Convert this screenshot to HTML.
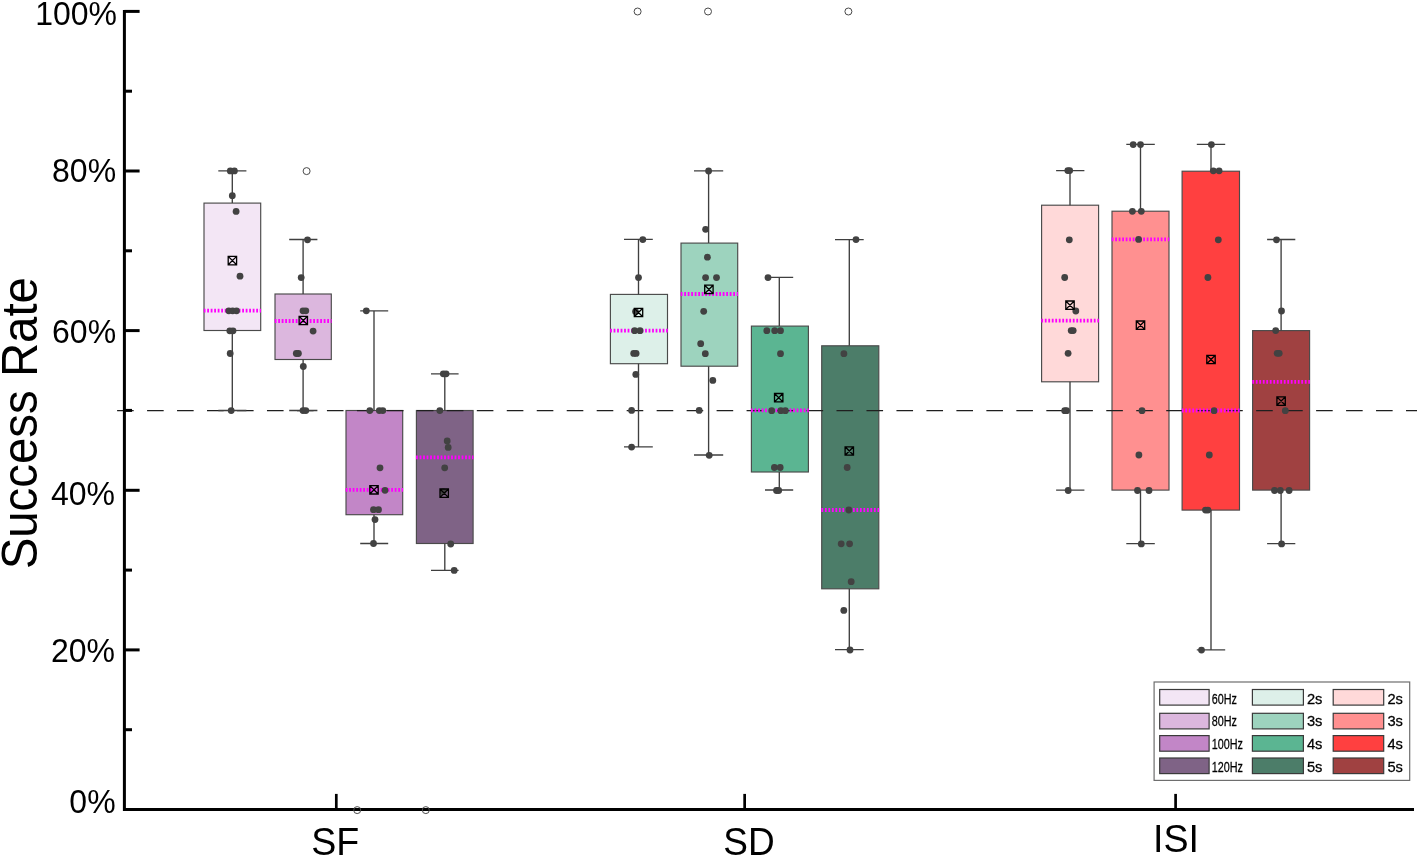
<!DOCTYPE html>
<html><head><meta charset="utf-8"><title>Success Rate</title>
<style>
html,body{margin:0;padding:0;background:#fff;}
body{width:1417px;height:857px;overflow:hidden;font-family:"Liberation Sans",sans-serif;}
svg{display:block;will-change:transform;}
</style></head><body>
<svg width="1417" height="857" viewBox="0 0 1417 857">
<rect x="0" y="0" width="1417" height="857" fill="#ffffff"/>
<g stroke="#4a4a4a" stroke-width="1.15">
<rect x="204.0" y="203.1" width="56.7" height="127.4" fill="#f3e6f5"/>
<rect x="275.0" y="294.0" width="56.3" height="65.5" fill="#dcb7de"/>
<rect x="346.0" y="410.5" width="56.7" height="104.2" fill="#c286c7"/>
<rect x="416.4" y="410.5" width="56.7" height="133.0" fill="#7f6386"/>
<rect x="610.4" y="294.4" width="57.1" height="69.3" fill="#ddf0e9"/>
<rect x="681.0" y="243.1" width="56.7" height="123.1" fill="#9dd3be"/>
<rect x="751.4" y="326.1" width="57.0" height="145.9" fill="#5bb592"/>
<rect x="821.7" y="345.8" width="57.1" height="243.0" fill="#4c7d69"/>
<rect x="1041.6" y="205.2" width="57.0" height="176.6" fill="#ffd9d9"/>
<rect x="1112.0" y="211.2" width="57.0" height="278.9" fill="#ff9090"/>
<rect x="1182.1" y="171.2" width="57.4" height="338.9" fill="#ff4040"/>
<rect x="1252.6" y="330.6" width="57.0" height="159.5" fill="#a04141"/>
</g>
<line x1="117.1" y1="410.5" x2="1417" y2="410.5" stroke="#1f1f1f" stroke-width="1.25" stroke-dasharray="16.6 13.375"/>
<g stroke="#ff00ff" stroke-width="3.8" stroke-dasharray="1.8 1.7">
<line x1="203.7" y1="310.7" x2="261.0" y2="310.7"/>
<line x1="274.7" y1="321.0" x2="331.6" y2="321.0"/>
<line x1="345.7" y1="489.9" x2="403.0" y2="489.9"/>
<line x1="416.1" y1="457.4" x2="473.4" y2="457.4"/>
<line x1="610.1" y1="330.7" x2="667.8" y2="330.7"/>
<line x1="680.7" y1="294.0" x2="738.0" y2="294.0"/>
<line x1="751.1" y1="410.4" x2="808.7" y2="410.4"/>
<line x1="821.4" y1="510.0" x2="879.1" y2="510.0"/>
<line x1="1041.3" y1="320.6" x2="1098.9" y2="320.6"/>
<line x1="1111.7" y1="239.4" x2="1169.3" y2="239.4"/>
<line x1="1181.8" y1="410.5" x2="1239.8" y2="410.5"/>
<line x1="1252.3" y1="381.8" x2="1309.9" y2="381.8"/>
</g>
<g stroke="#3f3f3f" stroke-width="1.35" fill="none">
<path d="M232.3 170.9V203.1M232.3 330.5V410.5M218.3 170.9H246.4M218.3 410.5H246.4"/>
<path d="M303.1 239.5V294.0M303.1 359.5V410.5M289.2 239.5H317.4M289.2 410.5H317.4"/>
<path d="M374.0 310.8V410.5M374.0 514.7V543.5M360.2 310.8H388.2M360.2 543.5H388.2"/>
<path d="M444.8 373.8V410.5M444.8 543.5V570.4M431.0 373.8H458.6M431.0 570.4H458.6"/>
<path d="M638.5 239.3V294.4M638.5 363.7V446.8M624.0 239.3H652.8M624.0 446.8H652.8"/>
<path d="M708.6 170.8V243.1M708.6 366.2V455.0M694.0 170.8H723.2M694.0 455.0H723.2"/>
<path d="M779.3 277.3V326.1M779.3 472.0V490.0M765.0 277.3H793.2M765.0 490.0H793.2"/>
<path d="M849.3 239.6V345.8M849.3 588.8V649.6M835.0 239.6H863.7M835.0 649.6H863.7"/>
<path d="M1070.0 170.6V205.2M1070.0 381.8V490.1M1056.1 170.6H1084.4M1056.1 490.1H1084.4"/>
<path d="M1140.5 144.4V211.2M1140.5 490.1V543.6M1126.3 144.4H1154.8M1126.3 543.6H1154.8"/>
<path d="M1211.0 144.4V171.2M1211.0 510.1V649.8M1196.8 144.4H1225.2M1196.8 649.8H1225.2"/>
<path d="M1281.1 239.5V330.6M1281.1 490.1V543.6M1267.1 239.5H1295.3M1267.1 543.6H1295.3"/>
</g>
<g fill="#424242">
<circle cx="230.3" cy="170.9" r="3.4"/>
<circle cx="234.4" cy="170.9" r="3.4"/>
<circle cx="232.3" cy="195.7" r="3.4"/>
<circle cx="236.1" cy="211.4" r="3.4"/>
<circle cx="240.0" cy="276.2" r="3.4"/>
<circle cx="228.8" cy="310.8" r="3.4"/>
<circle cx="232.6" cy="310.8" r="3.4"/>
<circle cx="236.5" cy="310.8" r="3.4"/>
<circle cx="229.8" cy="330.8" r="3.4"/>
<circle cx="233.0" cy="330.8" r="3.4"/>
<circle cx="230.2" cy="353.5" r="3.4"/>
<circle cx="231.2" cy="410.6" r="3.4"/>
<circle cx="307.5" cy="239.8" r="3.4"/>
<circle cx="301.2" cy="277.6" r="3.4"/>
<circle cx="303.0" cy="310.8" r="3.4"/>
<circle cx="305.8" cy="310.8" r="3.4"/>
<circle cx="313.1" cy="331.1" r="3.4"/>
<circle cx="296.3" cy="353.5" r="3.4"/>
<circle cx="298.4" cy="353.5" r="3.4"/>
<circle cx="303.3" cy="366.5" r="3.4"/>
<circle cx="303.0" cy="410.6" r="3.4"/>
<circle cx="305.8" cy="410.6" r="3.4"/>
<circle cx="366.3" cy="310.8" r="3.4"/>
<circle cx="369.8" cy="410.6" r="3.4"/>
<circle cx="379.3" cy="410.6" r="3.4"/>
<circle cx="382.8" cy="410.6" r="3.4"/>
<circle cx="380.0" cy="467.8" r="3.4"/>
<circle cx="385.0" cy="490.3" r="3.4"/>
<circle cx="373.5" cy="509.7" r="3.4"/>
<circle cx="378.5" cy="509.7" r="3.4"/>
<circle cx="375.0" cy="519.6" r="3.4"/>
<circle cx="373.5" cy="543.5" r="3.4"/>
<circle cx="443.3" cy="373.8" r="3.4"/>
<circle cx="446.1" cy="373.8" r="3.4"/>
<circle cx="439.8" cy="410.6" r="3.4"/>
<circle cx="447.2" cy="441.0" r="3.4"/>
<circle cx="448.2" cy="447.4" r="3.4"/>
<circle cx="444.7" cy="467.8" r="3.4"/>
<circle cx="443.2" cy="491.8" r="3.4"/>
<circle cx="450.7" cy="544.0" r="3.4"/>
<circle cx="454.2" cy="570.4" r="3.4"/>
<circle cx="642.8" cy="239.6" r="3.4"/>
<circle cx="638.5" cy="277.6" r="3.4"/>
<circle cx="635.5" cy="311.6" r="3.4"/>
<circle cx="634.6" cy="330.7" r="3.4"/>
<circle cx="640.0" cy="330.7" r="3.4"/>
<circle cx="633.7" cy="353.4" r="3.4"/>
<circle cx="636.1" cy="353.4" r="3.4"/>
<circle cx="635.8" cy="374.4" r="3.4"/>
<circle cx="631.6" cy="410.4" r="3.4"/>
<circle cx="631.6" cy="447.1" r="3.4"/>
<circle cx="708.6" cy="171.0" r="3.4"/>
<circle cx="705.6" cy="229.3" r="3.4"/>
<circle cx="707.4" cy="257.2" r="3.4"/>
<circle cx="705.6" cy="277.6" r="3.4"/>
<circle cx="716.5" cy="277.6" r="3.4"/>
<circle cx="703.7" cy="311.3" r="3.4"/>
<circle cx="700.7" cy="343.7" r="3.4"/>
<circle cx="705.3" cy="353.7" r="3.4"/>
<circle cx="712.8" cy="380.4" r="3.4"/>
<circle cx="699.2" cy="410.4" r="3.4"/>
<circle cx="709.2" cy="455.3" r="3.4"/>
<circle cx="768.0" cy="277.6" r="3.4"/>
<circle cx="766.8" cy="330.7" r="3.4"/>
<circle cx="774.7" cy="330.7" r="3.4"/>
<circle cx="780.5" cy="330.7" r="3.4"/>
<circle cx="780.5" cy="353.7" r="3.4"/>
<circle cx="771.7" cy="410.7" r="3.4"/>
<circle cx="780.8" cy="410.7" r="3.4"/>
<circle cx="785.3" cy="410.7" r="3.4"/>
<circle cx="774.4" cy="467.5" r="3.4"/>
<circle cx="780.2" cy="467.5" r="3.4"/>
<circle cx="776.5" cy="490.5" r="3.4"/>
<circle cx="778.7" cy="490.5" r="3.4"/>
<circle cx="856.0" cy="239.6" r="3.4"/>
<circle cx="843.9" cy="353.7" r="3.4"/>
<circle cx="847.2" cy="467.5" r="3.4"/>
<circle cx="848.8" cy="510.0" r="3.4"/>
<circle cx="841.2" cy="543.8" r="3.4"/>
<circle cx="849.6" cy="543.8" r="3.4"/>
<circle cx="851.2" cy="581.7" r="3.4"/>
<circle cx="843.8" cy="610.4" r="3.4"/>
<circle cx="850.0" cy="650.0" r="3.4"/>
<circle cx="1067.8" cy="170.6" r="3.4"/>
<circle cx="1069.7" cy="170.6" r="3.4"/>
<circle cx="1069.3" cy="239.8" r="3.4"/>
<circle cx="1064.7" cy="277.5" r="3.4"/>
<circle cx="1075.8" cy="311.0" r="3.4"/>
<circle cx="1071.2" cy="330.6" r="3.4"/>
<circle cx="1073.2" cy="330.6" r="3.4"/>
<circle cx="1068.1" cy="353.3" r="3.4"/>
<circle cx="1064.7" cy="410.7" r="3.4"/>
<circle cx="1066.6" cy="410.7" r="3.4"/>
<circle cx="1068.2" cy="490.5" r="3.4"/>
<circle cx="1133.2" cy="144.6" r="3.4"/>
<circle cx="1140.5" cy="144.6" r="3.4"/>
<circle cx="1132.4" cy="211.3" r="3.4"/>
<circle cx="1141.3" cy="211.3" r="3.4"/>
<circle cx="1138.6" cy="239.4" r="3.4"/>
<circle cx="1142.0" cy="410.7" r="3.4"/>
<circle cx="1138.9" cy="455.0" r="3.4"/>
<circle cx="1137.5" cy="490.5" r="3.4"/>
<circle cx="1149.0" cy="490.5" r="3.4"/>
<circle cx="1141.3" cy="543.9" r="3.4"/>
<circle cx="1211.4" cy="144.6" r="3.4"/>
<circle cx="1213.3" cy="170.8" r="3.4"/>
<circle cx="1219.1" cy="170.8" r="3.4"/>
<circle cx="1218.3" cy="239.8" r="3.4"/>
<circle cx="1207.9" cy="277.5" r="3.4"/>
<circle cx="1214.1" cy="410.7" r="3.4"/>
<circle cx="1209.3" cy="455.0" r="3.4"/>
<circle cx="1205.5" cy="510.1" r="3.4"/>
<circle cx="1207.9" cy="510.1" r="3.4"/>
<circle cx="1201.5" cy="650.1" r="3.4"/>
<circle cx="1276.5" cy="239.8" r="3.4"/>
<circle cx="1281.5" cy="311.0" r="3.4"/>
<circle cx="1275.7" cy="330.6" r="3.4"/>
<circle cx="1277.2" cy="353.3" r="3.4"/>
<circle cx="1279.2" cy="353.3" r="3.4"/>
<circle cx="1285.3" cy="410.7" r="3.4"/>
<circle cx="1274.5" cy="490.5" r="3.4"/>
<circle cx="1280.3" cy="490.5" r="3.4"/>
<circle cx="1289.1" cy="490.5" r="3.4"/>
<circle cx="1281.6" cy="543.9" r="3.4"/>
</g>
<g stroke="#000" stroke-width="3" fill="none">
<path d="M124.4 9.9V811M122.9 809.6H1414"/>
<path d="M124.4 729.7H132.0"/>
<path d="M124.4 649.9H139.6"/>
<path d="M124.4 570.1H132.0"/>
<path d="M124.4 490.3H139.6"/>
<path d="M124.4 410.4H132.0"/>
<path d="M124.4 330.6H139.6"/>
<path d="M124.4 250.8H132.0"/>
<path d="M124.4 171.0H139.6"/>
<path d="M124.4 91.2H132.0"/>
<path d="M124.4 11.4H139.6"/>
</g>
<g stroke="#000" stroke-width="2.7" fill="none">
<path d="M336.30 793.9V809"/>
<path d="M744.65 793.9V809"/>
<path d="M1175.60 793.9V809"/>
</g>
<g fill="#fff" stroke="#4a4a4a" stroke-width="1">
<circle cx="306.6" cy="171.1" r="3.5"/>
<circle cx="357.2" cy="810.1" r="3.5" fill="none"/>
<circle cx="425.8" cy="810.1" r="3.5" fill="none"/>
<circle cx="637.6" cy="11.5" r="3.5"/>
<circle cx="708.0" cy="11.5" r="3.5"/>
<circle cx="848.4" cy="11.5" r="3.5"/>
</g>
<g fill="none" stroke="#000" stroke-width="1.3">
<path d="M228.2 256.4h8.4v8.4h-8.4zM228.2 256.4l8.4 8.4M236.6 256.4l-8.4 8.4"/>
<path d="M299.1 316.3h8.4v8.4h-8.4zM299.1 316.3l8.4 8.4M307.5 316.3l-8.4 8.4"/>
<path d="M369.8 485.6h8.4v8.4h-8.4zM369.8 485.6l8.4 8.4M378.2 485.6l-8.4 8.4"/>
<path d="M440.0 489.0h8.4v8.4h-8.4zM440.0 489.0l8.4 8.4M448.4 489.0l-8.4 8.4"/>
<path d="M634.3 308.3h8.4v8.4h-8.4zM634.3 308.3l8.4 8.4M642.7 308.3l-8.4 8.4"/>
<path d="M704.7 285.2h8.4v8.4h-8.4zM704.7 285.2l8.4 8.4M713.1 285.2l-8.4 8.4"/>
<path d="M774.5 393.5h8.4v8.4h-8.4zM774.5 393.5l8.4 8.4M782.9 393.5l-8.4 8.4"/>
<path d="M845.1 446.8h8.4v8.4h-8.4zM845.1 446.8l8.4 8.4M853.5 446.8l-8.4 8.4"/>
<path d="M1065.8 301.0h8.4v8.4h-8.4zM1065.8 301.0l8.4 8.4M1074.2 301.0l-8.4 8.4"/>
<path d="M1136.3 321.0h8.4v8.4h-8.4zM1136.3 321.0l8.4 8.4M1144.7 321.0l-8.4 8.4"/>
<path d="M1206.8 355.3h8.4v8.4h-8.4zM1206.8 355.3l8.4 8.4M1215.2 355.3l-8.4 8.4"/>
<path d="M1276.9 396.9h8.4v8.4h-8.4zM1276.9 396.9l8.4 8.4M1285.3 396.9l-8.4 8.4"/>
</g>
<g font-family="'Liberation Sans', sans-serif" font-size="32" fill="#000" text-anchor="end">
<text transform="translate(115.6 812.8) scale(1 1.045)">0%</text>
<text transform="translate(115.0 662.1) scale(1 1.045)">20%</text>
<text transform="translate(115.0 505.2) scale(1 1.045)">40%</text>
<text transform="translate(116.1 342.7) scale(1 1.045)">60%</text>
<text transform="translate(116.1 182.3) scale(1 1.045)">80%</text>
<text transform="translate(117.0 25.0) scale(1 1.045)">100%</text>
</g>
<text transform="translate(36.6 423.2) rotate(-90) scale(1 1.04)" font-family="'Liberation Sans', sans-serif" font-size="47.4" text-anchor="middle" fill="#000">Success Rate</text>
<g font-family="'Liberation Sans', sans-serif" fill="#000" text-anchor="middle">
<text transform="translate(335.3 854.7) scale(1 1.04)" font-size="37.6">SF</text>
<text transform="translate(748.9 854.8) scale(1 1.04)" font-size="37.0">SD</text>
<text transform="translate(1176.0 851.9) scale(1 1.04)" font-size="37.6">ISI</text>
</g>
<rect x="1154.1" y="682" width="255.6" height="98.4" fill="#fff" stroke="#6e6e6e" stroke-width="1.2"/>
<g stroke="#3a3a3a" stroke-width="1.2">
<rect x="1159.7" y="689.5" width="49.4" height="15.6" fill="#f3e6f5"/>
<rect x="1159.7" y="713.3" width="49.4" height="15.6" fill="#dcb7de"/>
<rect x="1159.7" y="735.6" width="49.4" height="15.6" fill="#c286c7"/>
<rect x="1159.7" y="758.0" width="49.4" height="15.6" fill="#7f6386"/>
<rect x="1252.4" y="689.5" width="51.0" height="15.6" fill="#ddf0e9"/>
<rect x="1252.4" y="713.3" width="51.0" height="15.6" fill="#9dd3be"/>
<rect x="1252.4" y="735.6" width="51.0" height="15.6" fill="#5bb592"/>
<rect x="1252.4" y="758.0" width="51.0" height="15.6" fill="#4c7d69"/>
<rect x="1333.2" y="689.5" width="50.5" height="15.6" fill="#ffd9d9"/>
<rect x="1333.2" y="713.3" width="50.5" height="15.6" fill="#ff9090"/>
<rect x="1333.2" y="735.6" width="50.5" height="15.6" fill="#ff4040"/>
<rect x="1333.2" y="758.0" width="50.5" height="15.6" fill="#a04141"/>
</g>
<g font-family="'Liberation Sans', sans-serif" font-size="14.7" fill="#000" stroke="#000" stroke-width="0.25">
<text transform="translate(1211.8 703.6) scale(0.735 1.04)">60Hz</text>
<text transform="translate(1306.9 703.6) scale(1 1.04)">2s</text>
<text transform="translate(1387.4 703.6) scale(1 1.04)">2s</text>
<text transform="translate(1211.8 726.2) scale(0.735 1.04)">80Hz</text>
<text transform="translate(1306.9 726.2) scale(1 1.04)">3s</text>
<text transform="translate(1387.4 726.2) scale(1 1.04)">3s</text>
<text transform="translate(1211.8 749.2) scale(0.735 1.04)">100Hz</text>
<text transform="translate(1306.9 749.2) scale(1 1.04)">4s</text>
<text transform="translate(1387.4 749.2) scale(1 1.04)">4s</text>
<text transform="translate(1211.8 771.8) scale(0.735 1.04)">120Hz</text>
<text transform="translate(1306.9 771.8) scale(1 1.04)">5s</text>
<text transform="translate(1387.4 771.8) scale(1 1.04)">5s</text>
</g>
</svg>
</body></html>
